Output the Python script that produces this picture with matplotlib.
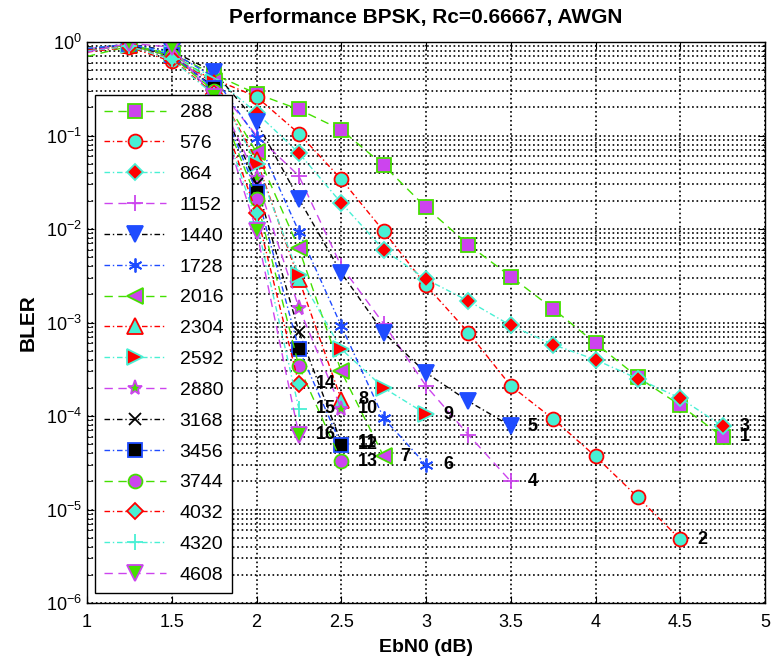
import matplotlib
matplotlib.use("Agg")
import matplotlib.pyplot as plt
import matplotlib.ticker as mticker
import numpy as np

plt.rcParams['font.family'] = ['Liberation Sans', 'DejaVu Sans']
plt.rcParams['mathtext.fontset'] = 'custom'
plt.rcParams['mathtext.rm'] = 'Liberation Sans'

# ---- data ----
labels = ["288", "576", "864", "1152", "1440", "1728", "2016", "2304",
          "2592", "2880", "3168", "3456", "3744", "4032", "4320", "4608"]
x_start = 1.0
x_step = 0.25
bler_288 = [0.70, 0.90, 0.75, 0.45, 0.28, 0.19, 0.115, 0.048, 0.017, 0.0068, 0.0031, 0.0014, 0.0006, 0.00026, 0.00013, 6.0e-5]
bler_576 = [0.78, 0.88, 0.62, 0.40, 0.26, 0.105, 0.034, 0.0095, 0.0025, 0.00078, 0.00021, 9.3e-5, 3.7e-5, 1.35e-5, 4.8e-6]
bler_864 = [0.82, 0.92, 0.68, 0.42, 0.175, 0.065, 0.019, 0.006, 0.0029, 0.0017, 0.00093, 0.00058, 0.0004, 0.00025, 0.000155, 7.8e-5]
bler_1152 = [0.85, 0.93, 0.70, 0.36, 0.10, 0.037, 0.004, 0.00097, 0.00021, 6.3e-5, 2.0e-5]
bler_1440 = [0.85, 0.95, 0.80, 0.48, 0.14, 0.021, 0.0034, 0.00078, 0.00029, 0.000144, 7.8e-5]
bler_1728 = [0.85, 0.95, 0.78, 0.42, 0.095, 0.0094, 0.00092, 9.5e-5, 3.0e-5]
bler_2016 = [0.82, 0.93, 0.75, 0.38, 0.066, 0.0062, 0.0003, 3.7e-5]
bler_2304 = [0.80, 0.92, 0.72, 0.36, 0.055, 0.0029, 0.00015]
bler_2592 = [0.85, 0.94, 0.74, 0.37, 0.05, 0.0032, 0.00052, 0.0002, 0.000105]
bler_2880 = [0.82, 0.93, 0.70, 0.33, 0.035, 0.00144, 0.00012]
bler_3168 = [0.83, 0.94, 0.70, 0.33, 0.03, 0.0008, 5.2e-5]
bler_3456 = [0.84, 0.95, 0.72, 0.32, 0.025, 0.00052, 4.9e-5]
bler_3744 = [0.80, 0.93, 0.70, 0.30, 0.021, 0.00034, 3.3e-5]
bler_4032 = [0.82, 0.90, 0.66, 0.28, 0.015, 0.00022]
bler_4320 = [0.80, 0.90, 0.65, 0.27, 0.012, 0.00012]
bler_4608 = [0.78, 0.97, 0.88, 0.26, 0.0096, 6.3e-5]
series = [bler_288, bler_576, bler_864, bler_1152, bler_1440, bler_1728, bler_2016, bler_2304,
          bler_2592, bler_2880, bler_3168, bler_3456, bler_3744, bler_4032, bler_4320, bler_4608]
x_ticks = [1, 1.5, 2, 2.5, 3, 3.5, 4, 4.5, 5]
x_tick_labels = ["1", "1.5", "2", "2.5", "3", "3.5", "4", "4.5", "5"]

# ---- styles ----
G = '#44e000'
M = '#cc44ee'
R = '#ff0000'
C = '#48f0d4'
B = '#1f4cff'
K = '#000000'
AST = (6, 2, 0)
styles = [
    (G, (0, (6, 4)), 's', M, G),
    (R, (0, (4, 2, 1, 2)), 'o', C, R),
    (C, (0, (4, 2, 1, 2)), 'D', R, C),
    (M, (0, (6, 4)), '+', M, M),
    (K, (0, (4, 2, 1, 2)), 'v', B, B),
    (B, (0, (4, 2, 1, 2)), AST, B, B),
    (G, (0, (6, 4)), '<', M, G),
    (R, (0, (4, 2, 1, 2)), '^', C, R),
    (C, (0, (4, 2, 1, 2)), '>', R, C),
    (M, (0, (6, 4)), '*', G, M),
    (K, (0, (4, 2, 1, 2)), 'x', K, K),
    (B, (0, (4, 2, 1, 2)), 's', K, B),
    (G, (0, (6, 4)), 'o', M, G),
    (R, (0, (4, 2, 1, 2)), 'D', C, R),
    (C, (0, (4, 2, 1, 2)), '+', C, C),
    (M, (0, (6, 4)), 'v', G, M),
]

def msize(mk):
    if mk == AST:
        return 10
    return {'s': 10, 'o': 10, 'D': 8, '+': 11, 'v': 11, '*': 11, '<': 11,
            '^': 11, '>': 11, 'x': 8}[mk]

fig = plt.figure(figsize=(7.73, 6.63), dpi=100)
ax = fig.add_axes([87/773, 1 - 603/663, (765-87)/773, (603-42)/663])

for i, (vals, lab, st) in enumerate(zip(series, labels, styles)):
    col, ls, mk, mfc, mec = st
    xs = x_start + x_step * np.arange(len(vals))
    ax.plot(xs, vals, color=col, linestyle=ls, linewidth=1.0,
            marker=mk, markersize=msize(mk), markerfacecolor=mfc,
            markeredgecolor=mec, markeredgewidth=1.3,
            markevery=list(range(1, len(vals))), label=lab)
    ax.text(xs[-1] + 0.1, vals[-1], str(i + 1), fontsize=13, fontweight='bold',
            ha='left', va='center', color='black')

ax.set_yscale('log')
ax.set_xlim(1, 5)
ax.set_ylim(1e-6, 1)
ax.set_xticks(x_ticks)
ax.set_xticklabels(x_tick_labels)
ax.yaxis.set_major_locator(mticker.LogLocator(base=10, numticks=10))
ax.yaxis.set_minor_locator(mticker.LogLocator(base=10, subs=np.arange(2, 10), numticks=20))
ax.yaxis.set_minor_formatter(mticker.NullFormatter())
ax.tick_params(axis='both', which='both', direction='in', top=True, right=True, labelsize=13)
ax.tick_params(axis='both', which='major', length=5)
ax.tick_params(axis='x', which='major', pad=8)
ax.tick_params(axis='y', which='minor', length=3)
ax.grid(True, which='major', axis='both', color='black', linestyle=':', linewidth=1.2)
ax.grid(True, which='minor', axis='y', color='black', linestyle=':', linewidth=1.2)
for sp in ax.spines.values():
    sp.set_linewidth(1.0)

ax.set_title("Performance BPSK, Rc=0.66667, AWGN", fontsize=15, fontweight='bold', pad=14)
ax.set_xlabel("EbN0 (dB)", fontsize=14, fontweight='bold', labelpad=6)
ax.set_ylabel("BLER", fontsize=15, fontweight='bold', labelpad=6)

leg = ax.legend(loc='upper left', bbox_to_anchor=(0.0118, 0.9055), fontsize=14,
                handlelength=3.2, labelspacing=0.68, borderpad=0.45, handletextpad=0.7,
                fancybox=False, framealpha=1.0, edgecolor='black', borderaxespad=0.0)
leg.get_frame().set_linewidth(1.0)

fig.savefig("out.png", dpi=100)
